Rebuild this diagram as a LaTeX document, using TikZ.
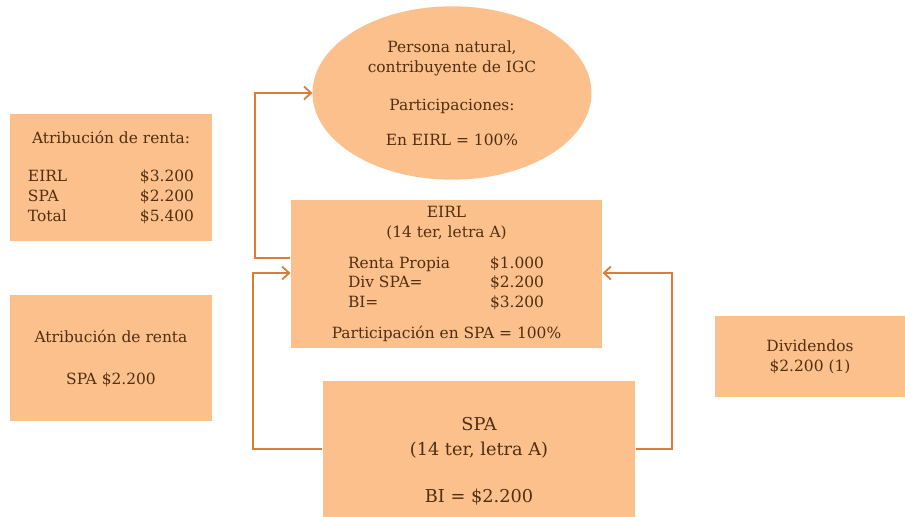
\documentclass[tikz,border=0pt]{standalone}
\usepackage{fontspec}
\setmainfont{DejaVu Serif}
\usetikzlibrary{arrows.meta,shapes.geometric}

\definecolor{peach}{RGB}{252,192,140}
\definecolor{rust}{RGB}{222,124,52}
\definecolor{ink}{RGB}{80,46,16}

\tikzset{
  box/.style={fill=peach,draw=none,rectangle,inner sep=0pt,text=ink,align=center,
    font=\fontsize{15.5}{20}\selectfont},
  link/.style={draw=rust,line width=1.8bp,-{Straight Barb[length=7bp,width=13bp,line width=1.8bp]}}
}

\begin{document}
\begin{tikzpicture}[x=1bp,y=-1bp]
\clip (0,0) rectangle (905,517);
\fill[white] (0,0) rectangle (905,517);

% PERSONA NATURAL
\node[box,ellipse,minimum width=280,minimum height=174] (pn) at (452,93) {Persona natural,\\contribuyente de IGC\\[18bp]Participaciones:\\[15bp]En EIRL = 100\%};

% ATRIBUCIONES
\node[box,minimum width=202,minimum height=127] (atr1) at (111,177.5) {Atribución de renta:\\[18bp]
  \makebox[166bp]{EIRL\hfill\$3.200}\\
  \makebox[166bp]{SPA\hfill\$2.200}\\
  \makebox[166bp]{Total\hfill\$5.400}};
\node[box,minimum width=202,minimum height=126] (atr2) at (111,358) {Atribución de renta\\[22bp]SPA \$2.200};

% EIRL
\node[box,minimum width=313,minimum height=148] (eirl) at (446.5,274) {EIRL\\(14 ter, letra A)\\[11bp]
  \makebox[197bp][l]{\makebox[142bp][l]{Renta Propia}\$1.000}\\
  \makebox[197bp][l]{\makebox[142bp][l]{Div SPA=}\$2.200}\\
  \makebox[197bp][l]{\makebox[142bp][l]{BI=}\$3.200}\\[11bp]
  Participación en SPA = 100\%};

% SPA
\node[box,minimum width=314,minimum height=136] (spa) at (479,449) {};
\node[box,fill=none,font=\fontsize{17.8}{25}\selectfont] (spatxt) at (479,461) {SPA\\(14 ter, letra A)\\[22bp]BI = \$2.200};

% DIVIDENDOS
\node[box,minimum width=190,minimum height=81] (div) at (810,356.5) {Dividendos\\\$2.200 (1)};

% FLUJOS
\draw[link] (eirl.west |- 0,258) -- (255,258) |- (pn.west);
\draw[link] (spa.west) -- (253,449) |- (eirl.west |- 0,273);
\draw[link] (spa.east) -- (672,449) |- (eirl.east |- 0,273);

\end{tikzpicture}
\end{document}
